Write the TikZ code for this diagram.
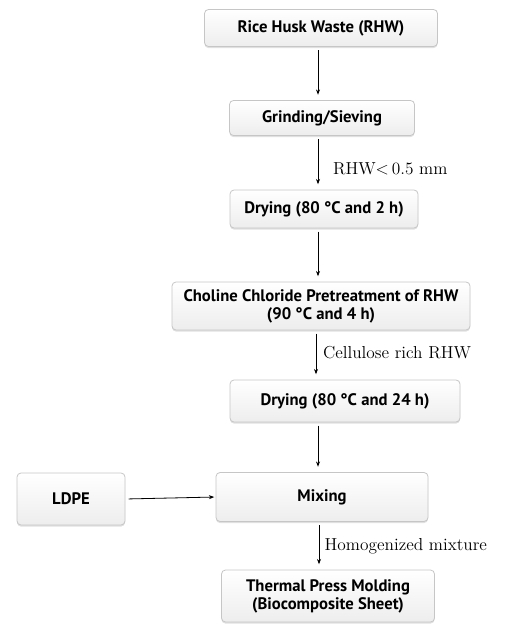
\documentclass[tikz,border=0pt]{standalone}
\usepackage{fontspec}
\newfontfamily\boxfont{PT Sans}
\usetikzlibrary{shadows,arrows.meta}
\begin{document}
\begin{tikzpicture}[x=0.75pt,y=-0.75pt,
  flowbox/.style={draw=gray!45, line width=0.6pt, rounded corners=3pt,
    top color=white, bottom color=gray!14,
    drop shadow={shadow xshift=0pt, shadow yshift=-1.2pt, opacity=0.35, fill=gray!70},
    font=\boxfont\bfseries\fontsize{12.5}{13.5}\selectfont, align=center,
    inner sep=0pt},
  conn/.style={-{Stealth[length=4pt,width=3pt]}, line width=0.6pt, shorten <=2.5pt, shorten >=4pt},
  lab/.style={font=\fontsize{13}{15}\selectfont, anchor=west, inner sep=1pt}]
\useasboundingbox (0,0) rectangle (515,627);
\node[flowbox, minimum width=233*0.75pt, minimum height=37*0.75pt] (rhw) at (321,28) {Rice Husk Waste (RHW)};
\node[flowbox, minimum width=185*0.75pt, minimum height=35*0.75pt] (grind) at (322,118) {Grinding/Sieving};
\node[flowbox, minimum width=188*0.75pt, minimum height=38*0.75pt] (dry1) at (324,209) {Drying (80 °C and 2 h)};
\node[flowbox, minimum width=298*0.75pt, minimum height=48*0.75pt] (chol) at (321,306) {Choline Chloride Pretreatment of RHW\\(90 °C and 4 h)};
\node[flowbox, minimum width=230*0.75pt, minimum height=42*0.75pt] (dry2) at (345,401) {Drying (80 °C and 24 h)};
\node[flowbox, minimum width=212*0.75pt, minimum height=49*0.75pt] (mix) at (322,497) {Mixing};
\node[flowbox, minimum width=108*0.75pt, minimum height=52*0.75pt] (ldpe) at (71,499) {LDPE};
\node[flowbox, minimum width=213*0.75pt, minimum height=52*0.75pt] (tpm) at (328,596) {Thermal Press Molding\\(Biocomposite Sheet)};
\coordinate (xa) at (318,0);
\coordinate (xb) at (316,0);
\coordinate (xc) at (319,0);
\draw[conn] (rhw.south -| xa) -- (grind.north -| xa);
\draw[conn] (grind.south -| xa) -- node[lab, pos=0.62, xshift=10pt] {RHW<\,0.5 mm} (dry1.north -| xa);
\draw[conn] (dry1.south -| xa) -- (chol.north -| xa);
\draw[conn] (chol.south -| xb) -- node[lab, pos=0.45, xshift=4pt] {Cellulose rich RHW} (dry2.north -| xb);
\draw[conn] (dry2.south -| xa) -- (mix.north -| xa);
\draw[conn, shorten >=1pt] (ldpe.east) -- (mix.west);
\draw[conn] (mix.south -| xc) -- node[lab, pos=0.52, xshift=3pt] {Homogenized mixture} (tpm.north -| xc);
\end{tikzpicture}
\end{document}
